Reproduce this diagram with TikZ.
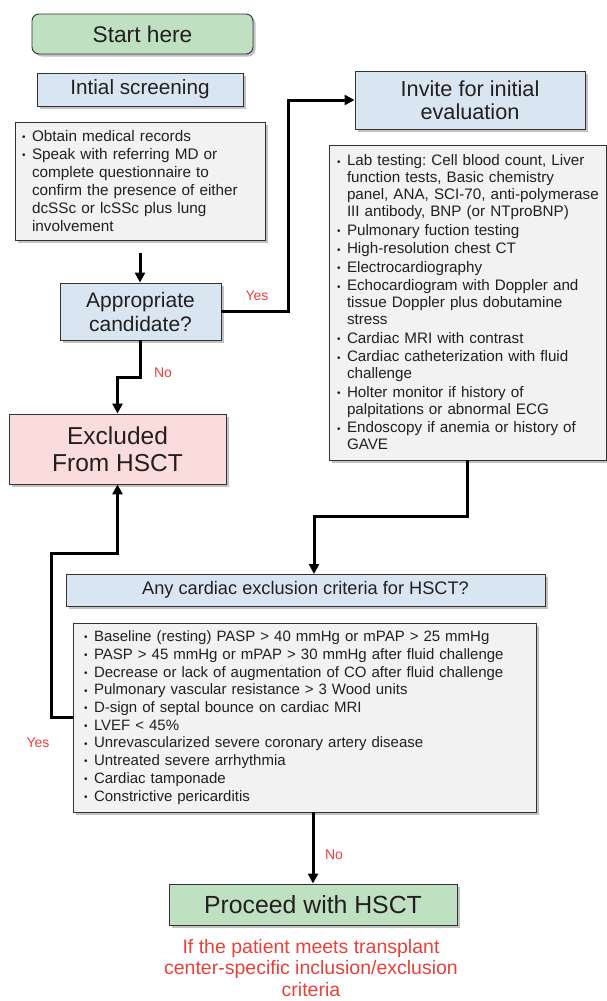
\documentclass[tikz,border=0pt]{standalone}
\usepackage{fontspec}
\setmainfont{Liberation Sans}
\usetikzlibrary{arrows.meta,shadows}
\definecolor{txt}{RGB}{35,31,32}
\definecolor{bordc}{RGB}{50,50,50}
\definecolor{gfill}{RGB}{191,225,193}
\definecolor{bfill}{RGB}{217,230,242}
\definecolor{lfill}{RGB}{242,242,242}
\definecolor{pfill}{RGB}{250,220,220}
\definecolor{redc}{RGB}{232,64,58}
\frenchspacing
\newcommand{\bu}{\makebox[10pt][l]{\raisebox{0.8pt}{\fontsize{10}{10}\selectfont •}}}
\newcommand{\ind}{\hspace*{10pt}}
\begin{document}
\begin{tikzpicture}[x=1pt,y=-1pt,
  box/.style={draw=bordc, line width=0.9pt, text=txt, inner sep=0pt, align=center,
    drop shadow={shadow xshift=2.5pt, shadow yshift=-2.5pt, fill=black!40, opacity=0.6}},
  gbox/.style={box, fill=gfill},
  bbox/.style={box, fill=bfill},
  pbox/.style={box, fill=pfill},
  lbox/.style={box, fill=lfill, align=left},
  conn/.style={line width=3pt, draw=black, -{Triangle[length=10pt,width=10pt]}},
  lbl/.style={text=redc, font=\fontsize{14}{16}\selectfont, inner sep=0pt}
]
\useasboundingbox (0,0) rectangle (607,1001);

\node[gbox, rounded corners=7pt, minimum width=221pt, minimum height=40pt,
  font=\fontsize{22.7}{26}\selectfont] (start) at (142.5,34) {Start here};
\node[bbox, minimum width=206pt, minimum height=33pt,
  font=\fontsize{20.7}{24}\selectfont] (screen) at (140,89.5) {Intial screening};

\node[lbox, minimum width=250pt, minimum height=118pt, text width=236pt,
  font=\fontsize{15.3}{18}\selectfont] (scrlist) at (140,181) {%
\bu Obtain medical records\\
\bu Speak with referring MD or\\
\ind complete questionnaire to\\
\ind confirm the presence of either\\
\ind dcSSc or lcSSc plus lung\\
\ind involvement};

\node[bbox, minimum width=161pt, minimum height=57pt,
  font=\fontsize{21}{24}\selectfont] (cand) at (140.5,311.5) {Appropriate\\candidate?};

\node[bbox, minimum width=230pt, minimum height=58pt,
  font=\fontsize{21.7}{22.5}\selectfont] (invite) at (470,100) {Invite for initial\\evaluation};

\node[lbox, minimum width=277pt, minimum height=315pt, text width=261pt,
  font=\fontsize{15.2}{17}\selectfont] (eval) at (467.5,302.5) {%
\bu Lab testing: Cell blood count, Liver\\
\ind function tests, Basic chemistry\\
\ind\mbox{panel, ANA, SCI-70, anti-polymerase}\\
\ind III antibody, BNP (or NTproBNP)\\[1.5pt]
\bu Pulmonary fuction testing\\[1.5pt]
\bu High-resolution chest CT\\[1.5pt]
\bu Electrocardiography\\[1.5pt]
\bu Echocardiogram with Doppler and\\
\ind tissue Doppler plus dobutamine\\
\ind stress\\[1.5pt]
\bu Cardiac MRI with contrast\\[1.5pt]
\bu Cardiac catheterization with fluid\\
\ind challenge\\[1.5pt]
\bu Holter monitor if history of\\
\ind palpitations or abnormal ECG\\[1.5pt]
\bu Endoscopy if anemia or history of\\
\ind GAVE};

\node[pbox, minimum width=217pt, minimum height=70pt,
  font=\fontsize{24.5}{27}\selectfont] (excl) at (117.5,449) {Excluded\\From HSCT};

\node[bbox, minimum width=479pt, minimum height=32pt,
  font=\fontsize{18.2}{22}\selectfont] (card) at (305.5,590) {Any cardiac exclusion criteria for HSCT?};

\node[lbox, minimum width=463pt, minimum height=189pt, text width=441pt,
  font=\fontsize{15}{17.7}\selectfont] (crit) at (304.5,717.5) {%
\bu Baseline (resting) PASP > 40 mmHg or mPAP > 25 mmHg\\
\bu PASP > 45 mmHg or mPAP > 30 mmHg after fluid challenge\\
\bu Decrease or lack of augmentation of CO after fluid challenge\\
\bu Pulmonary vascular resistance > 3 Wood units\\
\bu D-sign of septal bounce on cardiac MRI\\
\bu LVEF < 45\%\\
\bu Unrevascularized severe coronary artery disease\\
\bu Untreated severe arrhythmia\\
\bu Cardiac tamponade\\
\bu Constrictive pericarditis};

\node[gbox, minimum width=288pt, minimum height=41pt,
  font=\fontsize{24.8}{27}\selectfont] (proc) at (313,904.5) {Proceed with HSCT};

\node[text=redc, align=center, inner sep=0pt,
  font=\fontsize{19.5}{21.5}\selectfont] (note) at (311,968) {If the patient meets transplant\\center-specific inclusion/exclusion\\criteria};

% connectors
\draw[conn, shorten <=13pt] (scrlist.south) -- (scrlist.south |- cand.north);
\draw[conn] (cand.east) -- (288,311.5) |- (invite.west);
\draw[conn] (cand.south) |- (117.5,377) -- (excl.north);
\draw[conn] (eval.south) |- (314,516) -- (314,574);
\draw[conn] (crit.west) -| (51,553) -| (excl.south);
\draw[conn] (proc.north |- crit.south) -- (proc.north);

\node[lbl] (y1) at (257,296) {Yes};
\node[lbl] (n1) at (163,373) {No};
\node[lbl] (y2) at (38,743) {Yes};
\node[lbl] (n2) at (334,855) {No};
\end{tikzpicture}
\end{document}
